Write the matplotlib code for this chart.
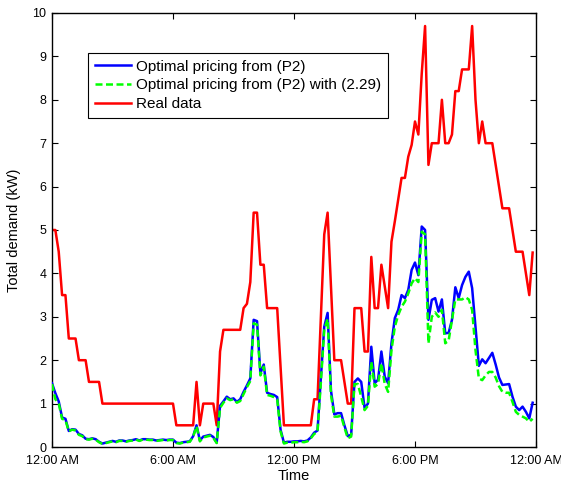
import numpy as np
import matplotlib
matplotlib.use("Agg")
import matplotlib.pyplot as plt

plt.rcParams['font.family'] = ['Liberation Sans', 'DejaVu Sans']

# 10-minute samples over one day (index 0 .. 143)
real_data = [
    5.0, 5.0, 4.5, 3.5, 3.5, 2.5, 2.5, 2.5, 2.0, 2.0,
    2.0, 1.5, 1.5, 1.5, 1.5, 1.0, 1.0, 1.0, 1.0, 1.0,
    1.0, 1.0, 1.0, 1.0, 1.0, 1.0, 1.0, 1.0, 1.0, 1.0,
    1.0, 1.0, 1.0, 1.0, 1.0, 1.0, 1.0, 0.5, 0.5, 0.5,
    0.5, 0.5, 0.5, 1.5, 0.5, 1.0, 1.0, 1.0, 1.0, 0.5,
    2.2, 2.7, 2.7, 2.7, 2.7, 2.7, 2.7, 3.2, 3.3, 3.8,
    5.4, 5.4, 4.2, 4.2, 3.2, 3.2, 3.2, 3.2, 1.85, 0.5,
    0.5, 0.5, 0.5, 0.5, 0.5, 0.5, 0.5, 0.5, 1.1, 1.1,
    3.0, 4.9, 5.4, 3.7, 2.0, 2.0, 2.0, 1.5, 1.0, 1.0,
    3.2, 3.2, 3.2, 2.2, 2.2, 4.38, 3.2, 3.2, 4.2, 3.7,
    3.2, 4.73, 5.2, 5.7, 6.2, 6.2, 6.69, 6.96, 7.5, 7.2,
    8.6, 9.7, 6.5, 7.0, 7.0, 7.0, 8.0, 7.0, 7.0, 7.2,
    8.2, 8.2, 8.7, 8.7, 8.7, 9.7, 8.0, 7.0, 7.5, 7.0,
    7.0, 7.0, 6.5, 6.0, 5.5, 5.5, 5.5, 5.0, 4.5, 4.5,
    4.5, 4.0, 3.5, 4.48,
]

optimal_p2 = [
    1.47, 1.24, 1.05, 0.68, 0.65, 0.37, 0.41, 0.40, 0.30, 0.27,
    0.19, 0.18, 0.20, 0.18, 0.12, 0.08, 0.10, 0.12, 0.14, 0.12,
    0.15, 0.15, 0.13, 0.15, 0.16, 0.18, 0.15, 0.18, 0.18, 0.17,
    0.17, 0.15, 0.16, 0.17, 0.16, 0.17, 0.17, 0.10, 0.09, 0.11,
    0.12, 0.13, 0.25, 0.50, 0.15, 0.24, 0.26, 0.28, 0.23, 0.10,
    0.95, 1.05, 1.16, 1.10, 1.12, 1.04, 1.10, 1.27, 1.42, 1.58,
    2.93, 2.90, 1.70, 1.90, 1.25, 1.22, 1.20, 1.15, 0.40, 0.10,
    0.12, 0.12, 0.13, 0.13, 0.14, 0.13, 0.15, 0.22, 0.33, 0.38,
    1.60, 2.77, 3.09, 1.30, 0.75, 0.78, 0.78, 0.50, 0.25, 0.28,
    1.50, 1.58, 1.50, 0.90, 1.00, 2.31, 1.47, 1.55, 2.20, 1.62,
    1.47, 2.39, 2.97, 3.16, 3.50, 3.43, 3.62, 4.08, 4.25, 3.96,
    5.08, 5.00, 2.93, 3.39, 3.43, 3.12, 3.40, 2.62, 2.63, 2.93,
    3.68, 3.43, 3.73, 3.92, 4.04, 3.66, 2.77, 1.87, 2.02, 1.93,
    2.05, 2.17, 1.90, 1.60, 1.43, 1.44, 1.45, 1.16, 0.93, 0.85,
    0.93, 0.81, 0.66, 1.02,
]

optimal_p2_229 = [
    1.45, 1.10, 1.00, 0.65, 0.62, 0.36, 0.40, 0.38, 0.28, 0.25,
    0.18, 0.17, 0.19, 0.17, 0.11, 0.07, 0.09, 0.11, 0.13, 0.11,
    0.14, 0.14, 0.12, 0.14, 0.15, 0.17, 0.14, 0.17, 0.17, 0.16,
    0.16, 0.14, 0.15, 0.16, 0.15, 0.16, 0.16, 0.09, 0.08, 0.10,
    0.11, 0.12, 0.24, 0.48, 0.13, 0.22, 0.24, 0.26, 0.21, 0.09,
    0.90, 1.02, 1.12, 1.08, 1.10, 1.02, 1.06, 1.22, 1.38, 1.52,
    2.85, 2.82, 1.65, 1.85, 1.20, 1.18, 1.15, 1.10, 0.36, 0.08,
    0.10, 0.10, 0.11, 0.11, 0.12, 0.11, 0.13, 0.20, 0.30, 0.35,
    1.50, 2.70, 2.95, 1.20, 0.70, 0.70, 0.72, 0.45, 0.20, 0.24,
    1.45, 1.45, 1.16, 0.85, 0.95, 1.97, 1.39, 1.45, 1.93, 1.45,
    1.27, 2.23, 2.77, 3.04, 3.23, 3.35, 3.54, 3.77, 3.89, 3.80,
    4.96, 4.90, 2.39, 3.00, 3.10, 3.00, 3.16, 2.39, 2.45, 2.93,
    3.40, 3.40, 3.40, 3.45, 3.40, 3.16, 2.23, 1.58, 1.54, 1.65,
    1.73, 1.73, 1.60, 1.40, 1.27, 1.25, 1.25, 1.04, 0.81, 0.74,
    0.70, 0.66, 0.58, 0.65,
]

tick_hours = [0, 6, 12, 18, 24]
tick_labels = ["12:00 AM", "6:00 AM", "12:00 PM", "6:00 PM", "12:00 AM"]
series_labels = ["Optimal pricing from (P2)",
                 "Optimal pricing from (P2) with (2.29)",
                 "Real data"]

hours = np.arange(len(real_data)) * 10 / 60.0

fig = plt.figure(figsize=(5.61, 4.86), dpi=100)
ax = fig.add_axes([52 / 561, 39 / 486, 484 / 561, 434 / 486])

ax.plot(hours, optimal_p2, color=(0, 0, 1), lw=1.8, label=series_labels[0], zorder=3)
ax.plot(hours, optimal_p2_229, color=(0, 1, 0), lw=1.8, ls=(0, (2.8, 1.4)),
        label=series_labels[1], zorder=4)
ax.plot(hours, real_data, color=(1, 0, 0), lw=1.8, label=series_labels[2], zorder=2)

ax.set_xlim(0, 24)
ax.set_ylim(0, 10)
ax.set_xticks(tick_hours)
ax.set_xticklabels(tick_labels)
ax.set_yticks(range(0, 11))
ax.tick_params(direction='in', top=True, right=True, labelsize=9, length=4, width=0.8)
ax.tick_params(axis='x', pad=5.5)
ax.tick_params(axis='y', pad=4)
for s in ax.spines.values():
    s.set_linewidth(1.0)

ax.set_xlabel("Time", fontsize=10.5, labelpad=1.5)
ax.set_ylabel("Total demand (kW)", fontsize=10.5, labelpad=8)

leg = ax.legend(loc='upper left', bbox_to_anchor=(0.074, 0.908), fontsize=11,
                frameon=True, fancybox=False, edgecolor='black', framealpha=1,
                handlelength=2.35, handletextpad=0.33, borderpad=0.45, labelspacing=0.3,
                borderaxespad=0)
leg.get_frame().set_linewidth(0.8)

fig.savefig("out.png", dpi=100)
